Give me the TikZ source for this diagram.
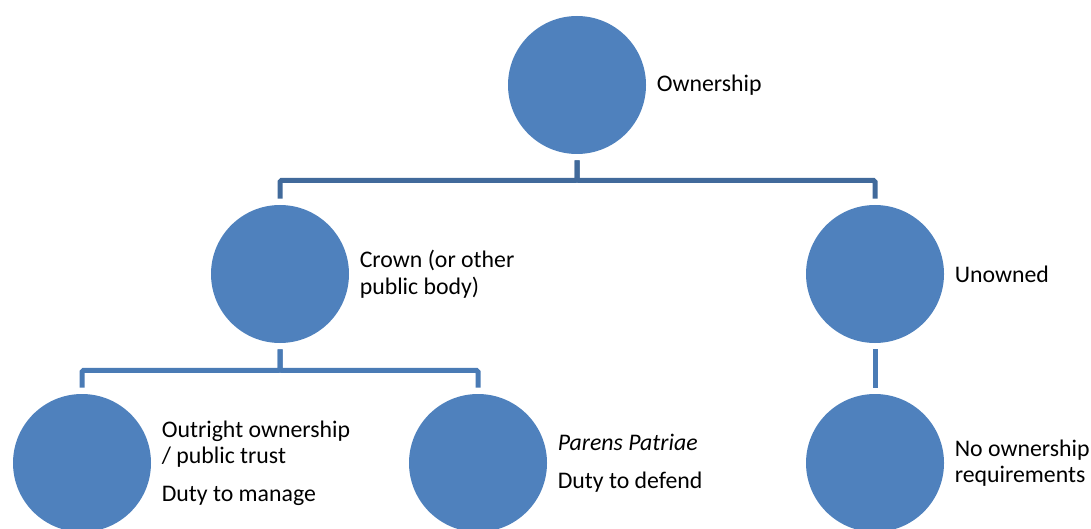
\documentclass[tikz,border=0pt]{standalone}
\usepackage{fontspec}
\setmainfont{Carlito}
\usepackage{xcolor}
\usetikzlibrary{positioning}

\definecolor{discblue}{RGB}{79,129,189}
\definecolor{topline}{RGB}{65,106,155}
\definecolor{subline}{RGB}{74,123,181}

\begin{document}
\begin{tikzpicture}[
                x=0.5pt, y=-0.5pt,
                disc/.style={circle, fill=discblue, minimum size=69pt, inner sep=0pt},
                lbl/.style={align=left, inner sep=0pt, font=\fontsize{11.9}{13.25}\selectfont},
                link/.style={line width=2.5pt, rounded corners=0.8pt, shorten <=3pt, shorten >=3pt}
            ]
                \useasboundingbox (0,0) rectangle (1091,529);

                \node[disc] (own) at (577, 85) {};
                \node[disc] (crown) at (280, 274) {};
                \node[disc] (unowned) at (875, 274) {};

                \node[disc] (outright) at (82, 463) {};
                \node[disc] (parens) at (478, 463) {};
                \node[disc] (noreq) at (875, 463) {};

                % Labels
                \node[lbl, right=5pt of own] {Ownership};
                \node[lbl, right=5pt of crown] {Crown (or other\\public body)};
                \node[lbl, right=5pt of unowned] {Unowned};
                \node[lbl, right=5pt of outright] {Outright ownership\\/ public trust\\[5.5pt]Duty to manage};
                \node[lbl, right=5pt of parens] {\textit{Parens Patriae}\\[5.5pt]Duty to defend};
                \node[lbl, right=5pt of noreq] {No ownership\\requirements};

                % Connectors
                \draw[link, topline] (own.south) -- ++(0,26) -| (crown.north);
                \draw[link, topline] (own.south) -- ++(0,26) -| (unowned.north);
                \draw[link, subline] (crown.south) -- ++(0,27) -| (outright.north);
                \draw[link, subline] (crown.south) -- ++(0,27) -| (parens.north);
                \draw[link, subline] (unowned.south) -- (noreq.north);
            \end{tikzpicture}
\end{document}
